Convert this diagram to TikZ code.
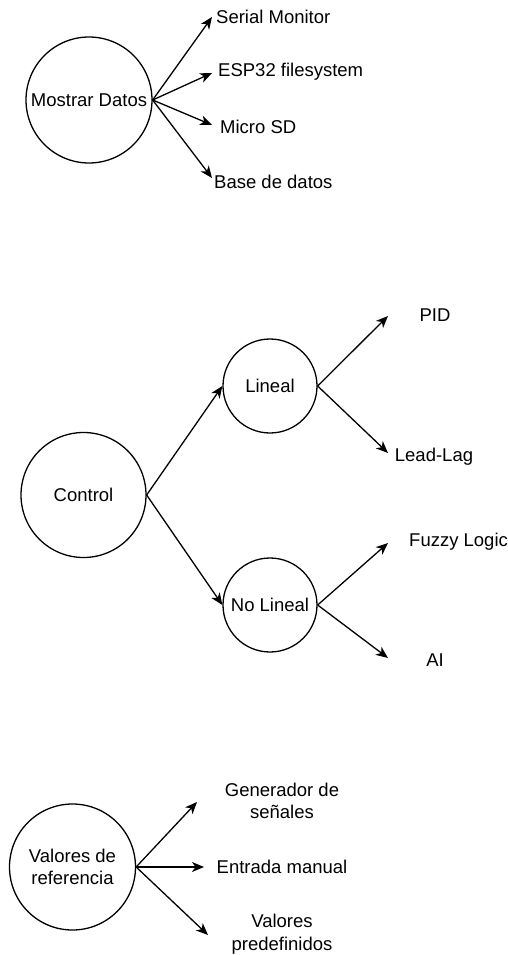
\documentclass[tikz,border=0pt]{standalone}
\usepackage{fontspec}
\setmainfont{Liberation Sans}
\usetikzlibrary{arrows.meta}
\begin{document}
\begin{tikzpicture}[x=1pt,y=-1pt,
  txt/.style={font=\fontsize{18.5}{22.5}\selectfont},
  bubble/.style={circle,draw,line width=1.3pt,inner sep=0pt,align=center,txt},
  lbl/.style={inner sep=0pt,align=center,txt},
  link/.style={-{Stealth[length=12pt,width=10pt,inset=3.5pt]},line width=1.3pt}]
\useasboundingbox (0,0) rectangle (508,955);

% --- Mostrar Datos ---
\node[bubble,minimum size=126pt] (md) at (89,100) {Mostrar Datos};
\coordinate (t1) at (212,17);
\coordinate (t2) at (212,73);
\coordinate (t3) at (212,125);
\coordinate (t4) at (212,178);
\node[lbl,anchor=west] (serial) at (216,17) {Serial Monitor};
\node[lbl,anchor=west] (esp) at (218,72) {ESP32 filesystem};
\node[lbl,anchor=west] (sd) at (220,127) {Micro SD};
\node[lbl,anchor=west] (bd) at (214,182) {Base de datos};
\draw[link] (md.east) -- (t1);
\draw[link] (md.east) -- (t2);
\draw[link] (md.east) -- (t3);
\draw[link] (md.east) -- (t4);

% --- Control ---
\node[bubble,minimum size=125pt] (ctl) at (83.5,495) {Control};
\node[bubble,minimum size=94pt] (li) at (270,386) {Lineal};
\node[bubble,minimum size=94pt] (nl) at (270,605) {No Lineal};
\draw[link] (ctl.east) -- (li.west);
\draw[link] (ctl.east) -- (nl.west);
\coordinate (t5) at (388,316);
\coordinate (t6) at (388,453);
\coordinate (t7) at (388,543);
\coordinate (t8) at (388,658);
\node[lbl] (pid) at (435,315) {PID};
\node[lbl] (ll) at (434,457) {Lead-Lag};
\node[lbl,anchor=west] (fz) at (409,542) {Fuzzy Logic};
\node[lbl] (ai) at (435,660) {AI};
\draw[link] (li.east) -- (t5);
\draw[link] (li.east) -- (t6);
\draw[link] (nl.east) -- (t7);
\draw[link] (nl.east) -- (t8);

% --- Valores de referencia ---
\node[bubble,minimum size=126pt] (vr) at (72.5,867) {Valores de\\referencia};
\coordinate (t9) at (197,802);
\coordinate (t10) at (204,867);
\coordinate (t11) at (208,935);
\node[lbl] (gen) at (282,801) {Generador de\\señales};
\node[lbl] (man) at (282,867) {Entrada manual};
\node[lbl] (pre) at (282,934) {Valores\\predefinidos};
\draw[link] (vr.east) -- (t9);
\draw[link] (vr.east) -- (t10);
\draw[link] (vr.east) -- (t11);
\end{tikzpicture}
\end{document}
